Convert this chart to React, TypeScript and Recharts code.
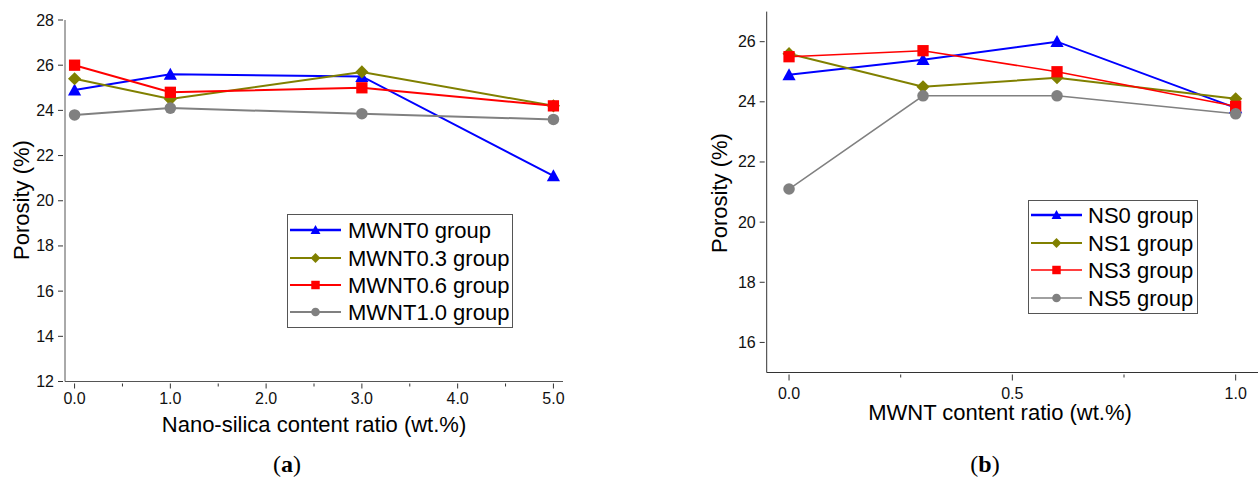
import { LineChart, Line, XAxis, YAxis, Legend } from "recharts";

const FONT = '"Liberation Sans", Arial, sans-serif';

// x positions
const nsContent = [0, 1, 3, 5];
const mwntContent = [0, 0.3, 0.6, 1.0];

// porosity (%) of each NS group at MWNT 0 / 0.3 / 0.6 / 1.0 wt.%
const ns0Group = [24.9, 25.4, 26.0, 23.8];
const ns1Group = [25.6, 24.5, 24.8, 24.1];
const ns3Group = [25.5, 25.7, 25.0, 23.85];
const ns5Group = [21.1, 24.2, 24.2, 23.6];

const leftNames = ["MWNT0 group", "MWNT0.3 group", "MWNT0.6 group", "MWNT1.0 group"];
const rightNames = ["NS0 group", "NS1 group", "NS3 group", "NS5 group"];

const nsTicks = [0, 0.5, 1, 1.5, 2, 2.5, 3, 3.5, 4, 4.5, 5];
const mwntTicks = [0, 0.25, 0.5, 0.75, 1];
const leftYTicks = [12, 14, 16, 18, 20, 22, 24, 26, 28];
const rightYTicks = [16, 18, 20, 22, 24, 26];

const nsGroups = [ns0Group, ns1Group, ns3Group, ns5Group];
const keys = ["s0", "s1", "s2", "s3"];

// left chart: one row per nano-silica content, one key per MWNT group
const leftData = nsContent.map((x, i) => {
  const row: any = { x };
  mwntContent.forEach((_, j) => (row[keys[j]] = nsGroups[i][j]));
  return row;
});

// right chart: one row per MWNT content, one key per NS group
const rightData = mwntContent.map((x, j) => {
  const row: any = { x };
  nsGroups.forEach((g, i) => (row[keys[i]] = g[j]));
  return row;
});

const colors = ["#0000ff", "#808000", "#ff0000", "#808080"];
const shapes = ["triangle", "diamond", "square", "circle"];

const marker = (shape: string, cx: number, cy: number, s: number, color: string, key?: any) => {
  if (shape === "triangle")
    return (
      <polygon key={key} points={`${cx},${cy - s * 0.55} ${cx - s * 0.55},${cy + s * 0.45} ${cx + s * 0.55},${cy + s * 0.45}`} fill={color} />
    );
  if (shape === "diamond")
    return <polygon key={key} points={`${cx},${cy - s * 0.55} ${cx + s * 0.55},${cy} ${cx},${cy + s * 0.55} ${cx - s * 0.55},${cy}`} fill={color} />;
  if (shape === "square") return <rect key={key} x={cx - s * 0.47} y={cy - s * 0.47} width={s * 0.94} height={s * 0.94} fill={color} />;
  return <circle key={key} cx={cx} cy={cy} r={s * 0.48} fill={color} />;
};

const dotFor = (i: number) => (props: any) => {
  const { cx, cy, index } = props;
  if (cx == null || cy == null) return <g key={`d-${index}`} />;
  return marker(shapes[i], cx, cy, 12, colors[i], `d-${index}`);
};

const xTick = (isMajor: (v: number) => boolean, majorLen: number, labelDy: number) => (props: any) => {
  const { x, y, payload } = props;
  const major = isMajor(payload.value);
  return (
    <g>
      <line x1={x} y1={y} x2={x} y2={y + (major ? majorLen : 3)} stroke="#333" />
      {major && (
        <text x={x} y={y + labelDy} textAnchor="middle" dominantBaseline="central" fontSize={16} fontFamily={FONT} fill="#111">
          {payload.value.toFixed(1)}
        </text>
      )}
    </g>
  );
};

const yTick = (props: any) => {
  const { x, y, payload } = props;
  return (
    <g>
      <line x1={x - 5} y1={y} x2={x} y2={y} stroke="#333" />
      <text x={x - 9} y={y} textAnchor="end" dominantBaseline="central" fontSize={16} fontFamily={FONT} fill="#111">
        {payload.value}
      </text>
    </g>
  );
};

const legendBox = (names: string[], w: number, rows: number[], lineEnd: number, textX: number, widths: number[]) => () =>
  (
    <svg width={w} height={114} style={{ display: "block" }}>
      <rect x={0.5} y={0.5} width={w - 1} height={113} fill="#fff" stroke="#555" />
      {names.map((n, i) => (
        <g key={n}>
          <line x1={3} y1={rows[i]} x2={lineEnd} y2={rows[i]} stroke={colors[i]} strokeWidth={widths[i]} />
          {marker(shapes[i], (3 + lineEnd) / 2, rows[i], 9, colors[i])}
          <text x={textX} y={rows[i]} dominantBaseline="central" fontSize={22} fontFamily={FONT} fill="#000">
            {n}
          </text>
        </g>
      ))}
    </svg>
  );

const textStyle: any = { position: "absolute", fontFamily: FONT, fontSize: 22, color: "#000", whiteSpace: "nowrap", transform: "translate(-50%, -50%)" };
const captionStyle: any = { ...textStyle, fontSize: 24, fontFamily: '"Liberation Serif", "DejaVu Serif", serif' };

export default function App() {
  return (
    <div style={{ position: "absolute", left: 0, top: 0, width: 1258, height: 479, background: "#fff", overflow: "hidden" }}>
      <div style={{ position: "absolute", left: 0, top: 0 }}>
        <LineChart width={600} height={420} data={leftData} margin={{ top: 20, right: 37, left: 0, bottom: 8.5 }}>
          <XAxis
            type="number"
            dataKey="x"
            domain={[-0.1, 5.1]}
            ticks={nsTicks}
            interval={0}
            tickSize={0}
            tickLine={false}
            height={30}
            axisLine={{ stroke: "#555" }}
            tick={xTick((v) => Number.isInteger(v), 5, 15)}
          />
          <YAxis
            type="number"
            domain={[12, 28]}
            ticks={leftYTicks}
            interval={0}
            width={65}
            tickSize={0}
            tickLine={false}
            axisLine={{ stroke: "#555" }}
            tick={yTick}
          />
          <Legend
            layout="vertical"
            align="center"
            verticalAlign="middle"
            content={legendBox(leftNames, 226, [16, 44, 71, 98], 54, 61, [2.5, 2, 2, 2])}
            wrapperStyle={{ left: 287, top: 214, width: 226, height: 114 }}
          />
          {keys.map((k, i) => (
            <Line key={k} type="linear" dataKey={k} stroke={colors[i]} strokeWidth={2} dot={dotFor(i)} activeDot={false} isAnimationActive={false} />
          ))}
        </LineChart>
      </div>

      <div style={{ position: "absolute", left: 700, top: 0 }}>
        <LineChart width={558} height={420} data={rightData} margin={{ top: 11.6, right: 0, left: 0, bottom: 17.5 }}>
          <XAxis
            type="number"
            dataKey="x"
            domain={[-0.05, 1.05]}
            ticks={mwntTicks}
            interval={0}
            tickSize={0}
            tickLine={false}
            height={30}
            axisLine={{ stroke: "#333" }}
            tick={xTick((v) => Math.abs(v * 2 - Math.round(v * 2)) < 1e-9, 6, 19)}
          />
          <YAxis
            type="number"
            domain={[15, 27]}
            ticks={rightYTicks}
            interval={0}
            width={66.7}
            tickSize={0}
            tickLine={false}
            axisLine={{ stroke: "#333" }}
            tick={yTick}
          />
          <Legend
            layout="vertical"
            align="center"
            verticalAlign="middle"
            content={legendBox(rightNames, 170, [15, 43, 70, 98], 54, 60, [2.5, 2, 1.5, 1.5])}
            wrapperStyle={{ left: 328, top: 200, width: 170, height: 114 }}
          />
          {keys.map((k, i) => (
            <Line
              key={k}
              type="linear"
              dataKey={k}
              stroke={colors[i]}
              strokeWidth={i < 2 ? 2 : 1.5}
              dot={dotFor(i)}
              activeDot={false}
              isAnimationActive={false}
            />
          ))}
        </LineChart>
      </div>

      <div style={{ ...textStyle, left: 22, top: 200, transform: "translate(-50%, -50%) rotate(-90deg)" }}>Porosity (%)</div>
      <div style={{ ...textStyle, left: 314, top: 425 }}>Nano-silica content ratio (wt.%)</div>
      <div style={{ ...captionStyle, left: 287, top: 464 }}>
        (<b>a</b>)
      </div>

      <div style={{ ...textStyle, left: 720, top: 193, transform: "translate(-50%, -50%) rotate(-90deg)" }}>Porosity (%)</div>
      <div style={{ ...textStyle, left: 1000, top: 413 }}>MWNT content ratio (wt.%)</div>
      <div style={{ ...captionStyle, left: 985, top: 464 }}>
        (<b>b</b>)
      </div>
    </div>
  );
}
